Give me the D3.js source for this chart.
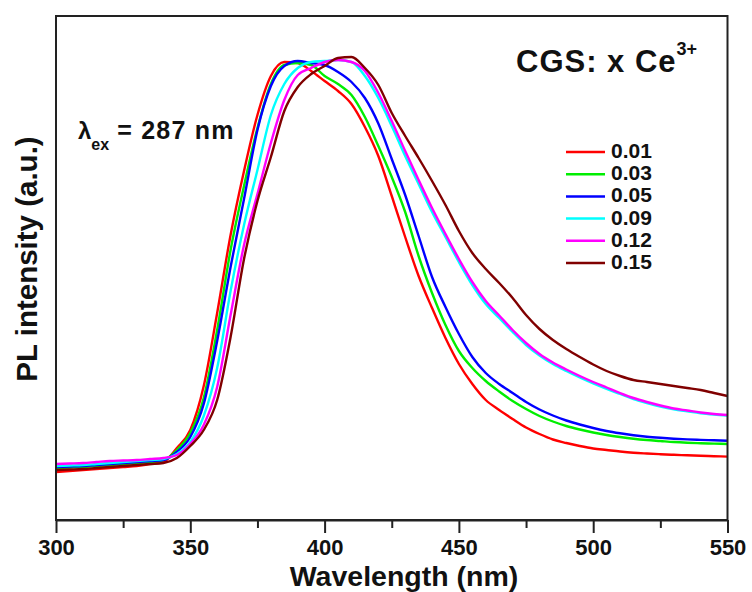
<!DOCTYPE html>
<html>
<head>
<meta charset="utf-8">
<script src="https://d3js.org/d3.v7.min.js"></script>
<style>
  body { margin: 0; background: #fff; }
  svg text { font-family: "Liberation Sans", Arial, sans-serif; font-weight: bold; fill: #111; }
</style>
</head>
<body>
<svg width="752" height="592"></svg>
<script>
// wavelength grid (nm), every 5 nm
var wavelengths = d3.range(300, 551, 5);

// PL intensity (a.u.), one array per Ce3+ content
var pl001 = [48,49,50,51,52,53,54,56,58,72,90,134,207,285,349,405,444,458,457,449,439,429,416,393,364,324,283,244,212,182,156,136,120,110,101,92.5,86,80.5,77,74,71.5,70,68.5,67.3,66.5,65.8,65.2,64.7,64.2,63.8,63.4];
var pl003 = [52,52.5,53,54,55,56,57,58,60,70,87,122,190,270,334,392,436,455,457,455,444,436,425,403,374,343,308,264,227,195,169,152,139,128.5,119,111,104,98.5,94,90.5,87.5,85,83,81.3,80,79,78,77.3,76.8,76.4,76];
var pl005 = [53,53.5,54,55,56,57,58,59,60,68,83,116,179,253,321,390,434,454,459,457,455,448,438,422,396.5,361,325,284,243,213,186,163,147,136,127,118,110.5,104.5,99.5,95.5,92,89,86.7,84.8,83.3,82.2,81.3,80.6,80.1,79.7,79.3];
var pl009 = [54,54.5,55,56,57,58,59,60,61,66,78,104,152,229,295,350,405,436,452,458,459,460,458,444,422,394,364,336,308,283,258,235,216,202,188,175,164.5,156,149,142.5,136.5,131,126,121,117,113.5,110.7,108.7,106.8,105.5,104.5];
var pl012 = [56,56.5,57,58,59,59.5,60,61,62,65,76,95,133,205,275,326,377,420,445,452,458,460,458,449,427,399,369,340,312,286,261,238,219,204.5,190,177,166,157.5,150.5,144,138,132.5,127,122,118,114.5,111.5,109.5,107.5,106,105];
var pl015 = [50,50.5,51,52,53,54,55,56,57,62,74,90,120,183,261,319,363,409,433,446,454,462,463,452,435,407,384,362,339,315,289,267,251,237,222,205,191,180,171,163,155.5,149,144,140,138,136,134,132,130,127,124];

var labels = ["0.01", "0.03", "0.05", "0.09", "0.12", "0.15"];
var colors = ["#ff0000", "#00ee00", "#0000ff", "#00ffff", "#ff00ff", "#800000"];
var majorTicks = [300, 350, 400, 450, 500, 550];
var minorTicks = [325, 375, 425, 475, 525];

var series = [pl001, pl003, pl005, pl009, pl012, pl015].map(function(vals, i) {
  return {
    label: labels[i],
    color: colors[i],
    points: vals.map(function(v, j) { return { nm: wavelengths[j], v: v }; })
  };
});

var svg = d3.select("svg");
// plot box (note: "top" is reserved on window, so use plot* names)
var plotL = 56, plotR = 727.5, plotT = 16, plotB = 520;

var x = d3.scaleLinear().domain([300, 550]).range([plotL, plotR]);
var y = d3.scaleLinear().domain([0, 504]).range([plotB, plotT]);

// curves
var line = d3.line()
  .x(function(d) { return x(d.nm); })
  .y(function(d) { return y(d.v); })
  .curve(d3.curveMonotoneX);

svg.append("g")
  .selectAll("path")
  .data(series)
  .enter().append("path")
  .attr("d", function(d) { return line(d.points); })
  .attr("fill", "none")
  .attr("stroke", function(d) { return d.color; })
  .attr("stroke-width", 2.4)
  .attr("stroke-linejoin", "round");

// frame
svg.append("rect")
  .attr("x", plotL).attr("y", plotT)
  .attr("width", plotR - plotL).attr("height", plotB - plotT)
  .attr("fill", "none")
  .attr("stroke", "#222")
  .attr("stroke-width", 2);

// x axis: major ticks with labels
var xAxis = svg.append("g")
  .attr("transform", "translate(0," + plotB + ")")
  .call(d3.axisBottom(x).tickValues(majorTicks).tickSize(13).tickPadding(6).tickSizeOuter(0));
xAxis.select(".domain").attr("stroke", "#222").attr("stroke-width", 2);
xAxis.selectAll(".tick line").attr("stroke", "#222").attr("stroke-width", 2);
xAxis.selectAll(".tick text")
  .attr("font-size", "22px")
  .style("font-family", "'Liberation Sans', Arial, sans-serif")
  .style("font-weight", "bold")
  .attr("fill", "#111");

// minor ticks
svg.append("g")
  .attr("transform", "translate(0," + plotB + ")")
  .call(d3.axisBottom(x).tickValues(minorTicks).tickSize(8).tickFormat(""))
  .call(function(g) {
    g.select(".domain").remove();
    g.selectAll(".tick text").remove();
    g.selectAll(".tick line").attr("stroke", "#222").attr("stroke-width", 2);
  });

// axis titles
svg.append("text")
  .attr("x", 404)
  .attr("y", 585.5)
  .attr("text-anchor", "middle")
  .attr("font-size", "28.5px")
  .text("Wavelength (nm)");

svg.append("text")
  .attr("transform", "translate(37,259) rotate(-90)")
  .attr("text-anchor", "middle")
  .attr("font-size", "29.5px")
  .text("PL intensity (a.u.)");

// CGS: x Ce3+
var t1 = svg.append("text")
  .attr("x", 516)
  .attr("y", 72)
  .attr("font-size", "31px")
  .attr("letter-spacing", "1")
  .text("CGS: x Ce");
t1.append("tspan")
  .attr("font-size", "18px")
  .attr("letter-spacing", "0")
  .attr("dy", "-17")
  .text("3+");

// excitation wavelength
var t2 = svg.append("text")
  .attr("x", 78)
  .attr("y", 139)
  .attr("font-size", "24px")
  .text("\u03bb");
t2.append("tspan")
  .attr("font-size", "16px")
  .attr("dy", "11")
  .text("ex");
t2.append("tspan")
  .attr("font-size", "25px")
  .attr("letter-spacing", "1.2")
  .attr("dy", "-11")
  .text(" = 287 nm");

// legend
var legend = svg.append("g")
  .selectAll("g")
  .data(series)
  .enter().append("g")
  .attr("transform", function(d, i) { return "translate(566," + (152 + i * 22.2) + ")"; });

legend.append("line")
  .attr("x1", 0).attr("x2", 39)
  .attr("y1", 0).attr("y2", 0)
  .attr("stroke", function(d) { return d.color; })
  .attr("stroke-width", 2.5);

legend.append("text")
  .attr("x", 45)
  .attr("y", 6)
  .attr("font-size", "21px")
  .text(function(d) { return d.label; });
</script>
</body>
</html>
